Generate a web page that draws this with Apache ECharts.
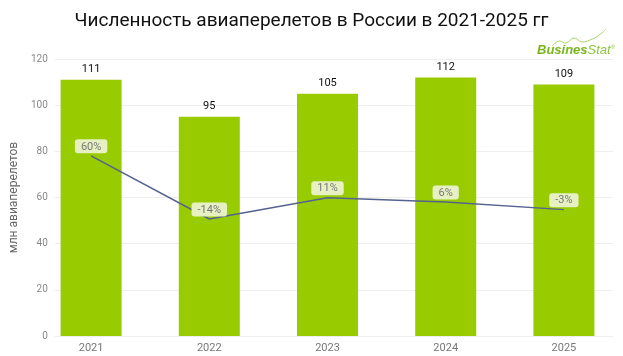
<!DOCTYPE html>
<html><head><meta charset="utf-8">
<script src="https://cdn.jsdelivr.net/npm/echarts@6/dist/echarts.min.js"></script>
<style>html,body{margin:0;padding:0;background:#fff}#c{width:623px;height:356px}</style>
</head><body><div id="c"></div>
<script>
const years = ['2021','2022','2023','2024','2025'];
const flights = [111, 95, 105, 112, 109];
const growth = [60, -14, 11, 6, -3];
const yTicks = [0, 20, 40, 60, 80, 100, 120];

const chart = echarts.init(document.getElementById('c'), null, {renderer:'canvas'});
const font = 'Roboto, "DejaVu Sans", sans-serif';
chart.setOption({
  animation: false,
  title: {
    text: 'Численность авиаперелетов в России в 2021-2025 гг',
    left: 'center', top: 7,
    textStyle: {fontFamily: 'Roboto, "Liberation Sans", sans-serif', fontSize: 19, fontWeight: 'normal', color: '#111'}
  },
  grid: [
    {left: 32, right: -3, top: 59, bottom: 20},
    {left: 43, right: 10, top: 59, bottom: 20}
  ],
  xAxis: [
    {type: 'category', data: years, gridIndex: 0,
     axisLine: {show: false}, axisTick: {show: false},
     axisLabel: {color: '#777', fontFamily: font, fontSize: 11, margin: 7}},
    {type: 'category', gridIndex: 1, data: years, show: false}
  ],
  yAxis: [
    {type: 'value', gridIndex: 0, min: 0, max: 120, interval: 20, show: false},
    {type: 'value', gridIndex: 0, min: -151, max: 173.4, show: false},
    {type: 'value', gridIndex: 1, min: yTicks[0], max: yTicks[yTicks.length-1], interval: 20,
     name: 'млн авиаперелетов', nameLocation: 'middle', nameGap: 27,
     nameTextStyle: {color: '#666', fontFamily: font, fontSize: 12},
     axisLine: {show: false}, axisTick: {show: false},
     axisLabel: {color: '#888', fontFamily: font, fontSize: 10, margin: 7},
     splitLine: {lineStyle: {color: '#eeeeee', width: 1}}}
  ],
  series: [
    {type: 'bar', xAxisIndex: 0, yAxisIndex: 0, data: flights, barWidth: 61, z: 2,
     itemStyle: {color: '#99cc00'},
     label: {show: true, position: 'top', distance: 5, color: '#111', fontFamily: font, fontSize: 11}},
    {type: 'line', xAxisIndex: 0, yAxisIndex: 1, data: growth, z: 3,
     symbol: 'circle', symbolSize: 1, showSymbol: true,
     itemStyle: {color: 'rgba(0,0,0,0)'},
     lineStyle: {color: '#56628f', width: 1.5},
     label: {show: true, position: 'top', distance: 2,
       formatter: p => p.value + '%',
       color: '#777', fontFamily: font, fontSize: 11,
       backgroundColor: '#e6f0c3', borderRadius: 3, padding: [2, 6, 1, 6]}}
  ],
  graphic: [
    {type: 'polyline', shape: {points: [[552,46],[559,41],[566,43],[574,38],[582,42],[590,40],[598,36],[606,29]], smooth: 0.4},
     style: {stroke: '#a9d36b', lineWidth: 1, fill: null}},
    {type: 'text', left: 537, top: 44,
     style: {text: '{a|Busines}{b|Stat}{c|®}', rich: {
       a: {fontFamily: '"Liberation Sans", sans-serif', fontSize: 13, fontWeight: 'bold', fontStyle: 'italic', fill: '#7ab51d'},
       b: {fontFamily: '"Liberation Sans", sans-serif', fontSize: 13, fontStyle: 'italic', fill: '#8cc63f'},
       c: {fontSize: 6, fill: '#8cc63f', verticalAlign: 'top'}
     }}}
  ]
});
</script></body></html>
